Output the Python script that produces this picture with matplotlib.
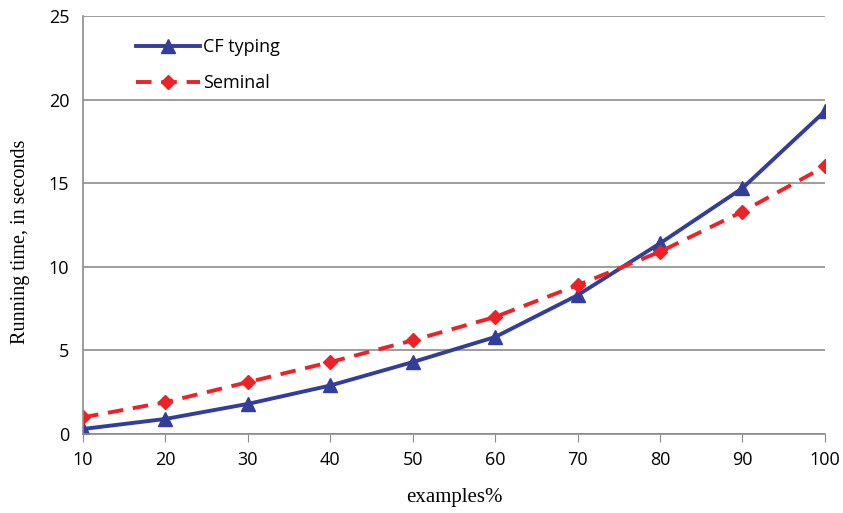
import matplotlib
matplotlib.use("Agg")
import matplotlib.pyplot as plt

examples = [10, 20, 30, 40, 50, 60, 70, 80, 90, 100]
cf_typing = [0.3, 0.9, 1.8, 2.9, 4.3, 5.8, 8.3, 11.4, 14.7, 19.3]
seminal = [1.0, 1.9, 3.1, 4.3, 5.6, 7.0, 8.9, 10.9, 13.3, 16.0]
y_ticks = [0, 5, 10, 15, 20, 25]

fig = plt.figure(figsize=(8.43, 5.13), dpi=100)
ax = fig.add_axes([0.0985, 0.154, 0.88, 0.815])

ax.plot(examples, cf_typing, color='#323E9A', lw=2.8, marker='^', ms=10, label='CF typing')
ax.plot(examples, seminal, color='#EC2227', lw=2.8, ls=(0, (4, 2.5)), marker='D', ms=7.5, label='Seminal')

ax.set_xlim(10, 100)
ax.set_ylim(0, 25)
ax.set_xticks(examples)
ax.set_yticks(y_ticks)
ax.yaxis.grid(True, color='#8c8c8c', lw=1.2)
ax.set_axisbelow(True)
for s in ['top', 'right']:
    ax.spines[s].set_visible(False)
for s in ['left', 'bottom']:
    ax.spines[s].set_color('#8c8c8c')
    ax.spines[s].set_linewidth(1.2)
ax.tick_params(axis='x', direction='out', length=6, color='#8c8c8c', pad=6)
ax.tick_params(axis='y', length=0, pad=10)
for lab in ax.get_xticklabels() + ax.get_yticklabels():
    lab.set_fontfamily('Open Sans')
    lab.set_fontsize(13)

ax.set_xlabel('examples%', fontfamily='Liberation Serif', fontsize=15, labelpad=14)
ax.set_ylabel('Running time, in seconds', fontfamily='Liberation Serif', fontsize=14.5)
ax.yaxis.set_label_coords(-0.072, 0.46)

leg = ax.legend(loc='upper left', bbox_to_anchor=(0.05, 0.985), frameon=False,
                handlelength=3.5, labelspacing=1.0, handletextpad=0.2,
                prop={'family': 'Open Sans', 'size': 13})

fig.savefig('out.png', dpi=100)
